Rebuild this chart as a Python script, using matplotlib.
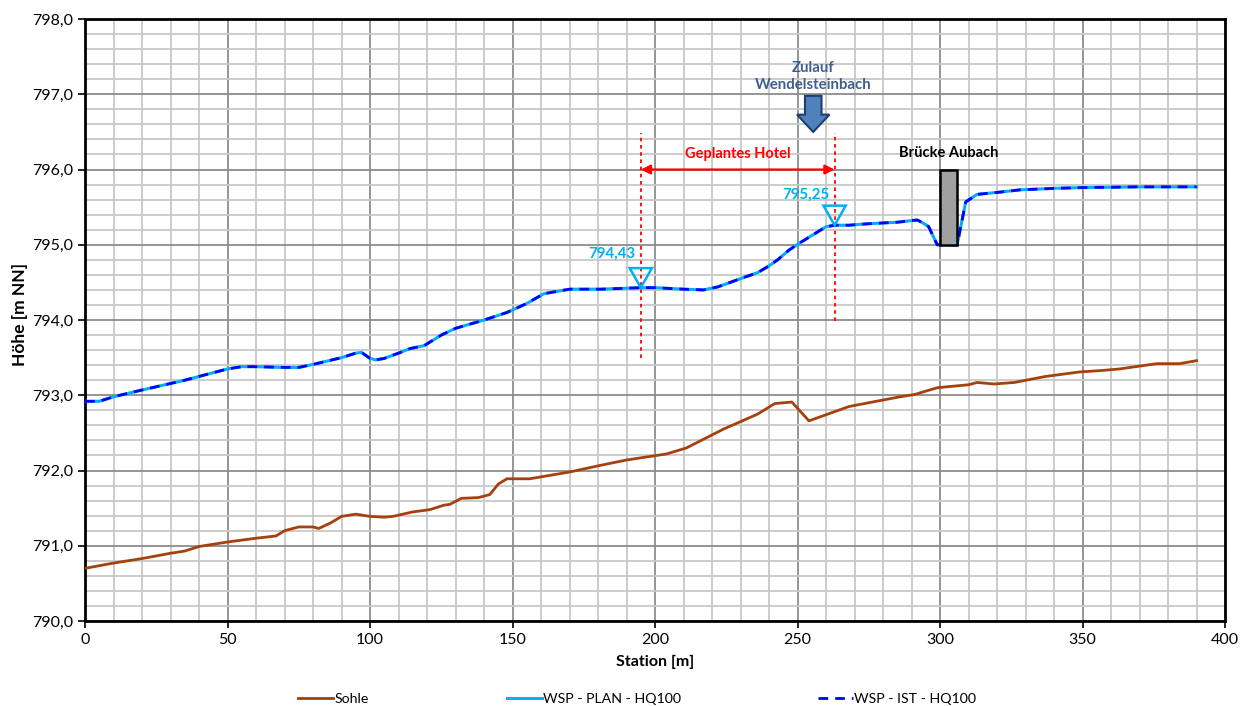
import matplotlib.pyplot as plt
from matplotlib.patches import Rectangle, Polygon, FancyArrow
from matplotlib.ticker import MultipleLocator, FuncFormatter

plt.rcParams['font.family'] = ['Lato', 'DejaVu Sans']

# Wasserspiegel (PLAN und IST liegen praktisch aufeinander)
station_wsp = [0, 5, 10, 20, 35, 50, 55, 60, 70, 75, 80, 90, 95, 97, 100, 102, 105, 110,
               114, 119, 125, 130, 140, 148, 155, 161, 170, 181, 195, 200, 210, 217, 222,
               230, 236, 240, 243, 247, 251, 257, 260, 263, 268, 275, 285, 292, 294, 296,
               299, 306, 309, 313, 321, 328, 340, 350, 370, 390]
wsp_plan = [792.92, 792.92, 792.98, 793.07, 793.20, 793.35, 793.38, 793.38, 793.37, 793.37,
            793.41, 793.50, 793.56, 793.57, 793.49, 793.47, 793.49, 793.56, 793.62, 793.66,
            793.80, 793.89, 794.00, 794.10, 794.22, 794.35, 794.41, 794.41, 794.43, 794.43,
            794.41, 794.40, 794.44, 794.55, 794.63, 794.72, 794.80, 794.93, 795.03, 795.17,
            795.24, 795.26, 795.26, 795.28, 795.30, 795.33, 795.29, 795.24, 795.00, 795.00,
            795.57, 795.67, 795.70, 795.73, 795.75, 795.76, 795.77, 795.77]
wsp_ist = list(wsp_plan)

station_sohle = [0, 10, 20, 30, 35, 40, 50, 60, 67, 70, 75, 80, 82, 86, 90, 95, 100, 105,
                 108, 115, 121, 126, 128, 132, 138, 142, 145, 148, 156, 170, 181, 190, 204,
                 211, 224, 236, 242, 248, 254, 268, 279, 286, 291, 299, 310, 313, 319, 326,
                 337, 349, 357, 363, 376, 384, 390]
sohle = [790.70, 790.77, 790.83, 790.90, 790.93, 790.99, 791.05, 791.10, 791.13, 791.20,
         791.25, 791.25, 791.23, 791.30, 791.39, 791.42, 791.39, 791.38, 791.39, 791.45,
         791.48, 791.54, 791.55, 791.63, 791.64, 791.68, 791.82, 791.89, 791.89, 791.98,
         792.07, 792.14, 792.22, 792.30, 792.55, 792.75, 792.89, 792.91, 792.66, 792.85,
         792.93, 792.98, 793.01, 793.10, 793.14, 793.17, 793.15, 793.17, 793.25, 793.31,
         793.33, 793.35, 793.42, 793.42, 793.46]

hotel_von, hotel_bis = 195, 263
wsp_hotel = [794.43, 795.25]
bruecke = (300, 306, 795.0, 796.0)
zulauf_station = 255.5

fig = plt.figure(figsize=(12.45, 7.06), dpi=100)
ax = fig.add_axes([0.0683, 0.1204, 0.9157, 0.8526])

ax.set_xlim(0, 400)
ax.set_ylim(790, 798)
ax.xaxis.set_major_locator(MultipleLocator(50))
ax.xaxis.set_minor_locator(MultipleLocator(10))
ax.yaxis.set_major_locator(MultipleLocator(1))
ax.yaxis.set_minor_locator(MultipleLocator(0.2))
ax.yaxis.set_major_formatter(FuncFormatter(lambda v, p: f"{v:.1f}".replace(".", ",")))
ax.grid(which='minor', color='#c8c8c8', lw=1.3, zorder=0)
ax.grid(which='major', color='#8c8c8c', lw=1.3, zorder=0)
ax.set_axisbelow(True)
ax.tick_params(which='major', direction='out', length=5, width=1.2, labelsize=11.5, color='black')
ax.tick_params(which='minor', length=0)
for s in ax.spines.values():
    s.set_linewidth(2)
    s.set_color('black')

l1, = ax.plot(station_sohle, sohle, color='#A5410E', lw=2, zorder=3)
l2, = ax.plot(station_wsp, wsp_plan, color='#00B0F0', lw=2.2, zorder=3)
l3, = ax.plot(station_wsp, wsp_ist, color='#0000FF', lw=2, ls=(0, (3.5, 2.5)), zorder=4)

# Brücke
ax.add_patch(Rectangle((bruecke[0], bruecke[2]), bruecke[1] - bruecke[0], bruecke[3] - bruecke[2],
                       facecolor='#a0a0a0', edgecolor='black', lw=1.8, zorder=5))
ax.text((bruecke[0] + bruecke[1]) / 2, 796.22, "Brücke Aubach", ha='center', va='center',
        fontsize=10.5, fontweight='bold', color='black')

# Hotel Bereich
ax.plot([hotel_von, hotel_von], [793.49, 796.49], color='red', lw=1.3, ls=(0, (2, 2)), zorder=6)
ax.plot([hotel_bis, hotel_bis], [793.99, 796.49], color='red', lw=1.3, ls=(0, (2, 2)), zorder=6)
ax.annotate('', xy=(hotel_von, 796.0), xytext=(hotel_bis, 796.0),
            arrowprops=dict(arrowstyle='<|-|>', color='red', lw=1.6, mutation_scale=14,
                            shrinkA=0, shrinkB=0), zorder=6)
ax.text((hotel_von + hotel_bis) / 2, 796.2, "Geplantes Hotel", ha='center', va='center',
        fontsize=10.5, fontweight='bold', color='red')

# WSP Marken
for st, h, lx, ly in [(hotel_von, wsp_hotel[0], 185, 794.88), (hotel_bis, wsp_hotel[1], 253, 795.66)]:
    yy = 794.43 if st == hotel_von else 795.26
    ax.add_patch(Polygon([(st, yy), (st - 3.9, yy + 0.26), (st + 3.9, yy + 0.26)], closed=True,
                         fill=False, edgecolor='#00B0F0', lw=1.8, zorder=7))
    ax.text(lx, ly, f"{h:.2f}".replace(".", ","), ha='center', va='center', fontsize=10.8,
            fontweight='bold', color='#00B0F0')

# Zulauf
ax.add_patch(FancyArrow(zulauf_station, 796.98, 0, -0.48, width=5.8, head_width=11.4,
                        head_length=0.23, length_includes_head=True, facecolor='#4F81BD',
                        edgecolor='#1F3F6F', lw=1.5, zorder=6))
ax.text(zulauf_station, 797.24, "Zulauf\nWendelsteinbach", ha='center', va='center',
        fontsize=10.8, fontweight='bold', color='#3F5F8F', linespacing=1.3)

ax.set_xlabel("Station [m]", fontsize=11.5, fontweight='bold', labelpad=6)
ax.set_ylabel("Höhe [m NN]", fontsize=12.5, fontweight='bold')
ax.yaxis.set_label_coords(-0.05, 0.51)

for h, lab, x in [(l1, "Sohle", 298), (l2, "WSP - PLAN - HQ100", 507), (l3, "WSP - IST - HQ100", 818)]:
    fig.legend(handles=[h], labels=[lab], loc='center left', bbox_to_anchor=(x / 1245, 1 - 699 / 706),
               frameon=False, fontsize=10.2, handlelength=2.45, handletextpad=0.1, borderpad=0,
               borderaxespad=0)

fig.savefig("out.png", dpi=100)
